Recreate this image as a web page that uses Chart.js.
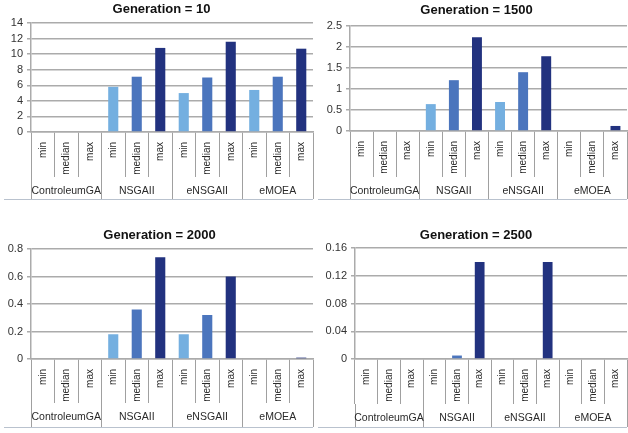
<!DOCTYPE html>
<html>
<head>
<meta charset="utf-8">
<script src="https://cdn.jsdelivr.net/npm/chart.js@4.4.1/dist/chart.umd.min.js"></script>
<style>
  body { margin: 0; background: #fff; }
  #wrap { position: relative; width: 628px; height: 433px; }
  canvas { position: absolute; }
</style>
</head>
<body>
<div id="wrap"></div>
<script>
"use strict";
const groups = ["ControleumGA", "NSGAII", "eNSGAII", "eMOEA"];
const stats = ["min", "median", "max"];

// bar values, in order ControleumGA, NSGAII, eNSGAII, eMOEA (min, median, max each)
const gen10 = [0, 0, 0, 5.8, 7.1, 10.8, 5.0, 7.0, 11.6, 5.4, 7.1, 10.7];
const gen1500 = [0, 0, 0, 0.64, 1.21, 2.23, 0.69, 1.4, 1.78, 0, 0, 0.12];
const gen2000 = [0, 0, 0, 0.18, 0.36, 0.74, 0.18, 0.32, 0.6, 0, 0, 0.01];
const gen2500 = [0, 0, 0, 0, 0.005, 0.14, 0, 0, 0.14, 0, 0, 0];

// y tick labels of each panel
const ticks10 = [0, 2, 4, 6, 8, 10, 12, 14];
const ticks1500 = [0, 0.5, 1, 1.5, 2, 2.5];
const ticks2000 = [0, 0.2, 0.4, 0.6, 0.8];
const ticks2500 = [0, 0.04, 0.08, 0.12, 0.16];

const statColors = ["#74afe0", "#4b75bd", "#22327f"];
const font = "'Liberation Sans', Arial, sans-serif";
const gridColor = "#ababab";
const tableColor = "#a0a0a0";

// categories: every group gets min / median / max
const labels = [];
groups.forEach(() => stats.forEach((s) => labels.push(s)));
const barColors = labels.map((_, i) => statColors[i % 3]);

const panels = [
  { title: "Generation = 10", values: gen10, ticks: ticks10, left: 0, top: 0, h: 216,
    padLeft: 10, yW: 21, tPadTop: 2, tPadBottom: 5.4, xH: 45, x2H: 22, padBottom: 17 },
  { title: "Generation = 1500", values: gen1500, ticks: ticks1500, left: 314, top: 0, h: 216,
    padLeft: 12, yW: 24, tPadTop: 2.5, tPadBottom: 7.9, xH: 46, x2H: 22, padBottom: 17 },
  { title: "Generation = 2000", values: gen2000, ticks: ticks2000, left: 0, top: 216, h: 217,
    padLeft: 6, yW: 25, tPadTop: 12, tPadBottom: 5.4, xH: 44, x2H: 24, padBottom: 6 },
  { title: "Generation = 2500", values: gen2500, ticks: ticks2500, left: 314, top: 216, h: 217,
    padLeft: 11, yW: 30, tPadTop: 12, tPadBottom: 4.4, xH: 45, x2H: 23, padBottom: 6 },
];

// bottom line closing the label table
const tableLine = {
  id: "tableLine",
  afterDraw(chart) {
    const s = chart.scales.x2;
    const ctx = chart.ctx;
    ctx.save();
    ctx.strokeStyle = "#b9c2ce";
    ctx.lineWidth = 1;
    ctx.beginPath();
    ctx.moveTo(4, Math.round(s.bottom) + 0.5);
    ctx.lineTo(chart.chartArea.right, Math.round(s.bottom) + 0.5);
    ctx.stroke();
    ctx.restore();
  },
};

const wrap = document.getElementById("wrap");

panels.forEach((p) => {
  const canvas = document.createElement("canvas");
  canvas.width = 314;
  canvas.height = p.h;
  canvas.style.left = p.left + "px";
  canvas.style.top = p.top + "px";
  wrap.appendChild(canvas);

  new Chart(canvas.getContext("2d"), {
    type: "bar",
    data: {
      labels: labels,
      datasets: [
        {
          data: p.values,
          backgroundColor: barColors,
          barPercentage: 0.43,
          categoryPercentage: 1,
        },
      ],
    },
    options: {
      responsive: false,
      animation: false,
      layout: { padding: { left: p.padLeft, right: 1, top: 0, bottom: p.padBottom } },
      plugins: {
        legend: { display: false },
        tooltip: { enabled: false },
        title: {
          display: true,
          text: p.title,
          color: "#111",
          font: { family: font, size: 13, weight: "bold" },
          padding: { top: p.tPadTop, bottom: p.tPadBottom },
        },
      },
      scales: {
        x: {
          type: "category",
          position: "bottom",
          weight: 0,
          offset: true,
          grid: { offset: true, drawOnChartArea: false, tickLength: p.xH, color: tableColor },
          border: { color: gridColor, width: 1.5 },
          ticks: {
            minRotation: 90,
            maxRotation: 90,
            autoSkip: false,
            padding: 10 - p.xH,
            color: "#2a2a2a",
            font: { family: font, size: 10 },
          },
          afterFit: (s) => { s.height = p.xH; },
        },
        x2: {
          type: "category",
          labels: groups,
          position: "bottom",
          weight: 1,
          offset: true,
          grid: { offset: true, drawOnChartArea: false, tickLength: p.x2H, color: tableColor },
          border: { display: false },
          ticks: {
            autoSkip: false,
            maxRotation: 0,
            padding: 8 - p.x2H,
            color: "#2a2a2a",
            font: { family: font, size: 10.5 },
          },
          afterFit: (s) => { s.height = p.x2H; },
        },
        y: {
          min: 0,
          max: p.ticks[p.ticks.length - 1],
          grid: { color: gridColor, lineWidth: 1.5, tickLength: 4 },
          border: { color: gridColor, width: 1.5 },
          afterBuildTicks: (axis) => {
            axis.ticks = p.ticks.map((v) => ({ value: v }));
          },
          ticks: {
            autoSkip: false,
            padding: 4,
            color: "#333",
            font: { family: font, size: 11 },
            callback: (v) => String(v),
          },
          afterFit: (s) => { s.width = p.yW; },
        },
      },
    },
    plugins: [tableLine],
  });
});
</script>
</body>
</html>
